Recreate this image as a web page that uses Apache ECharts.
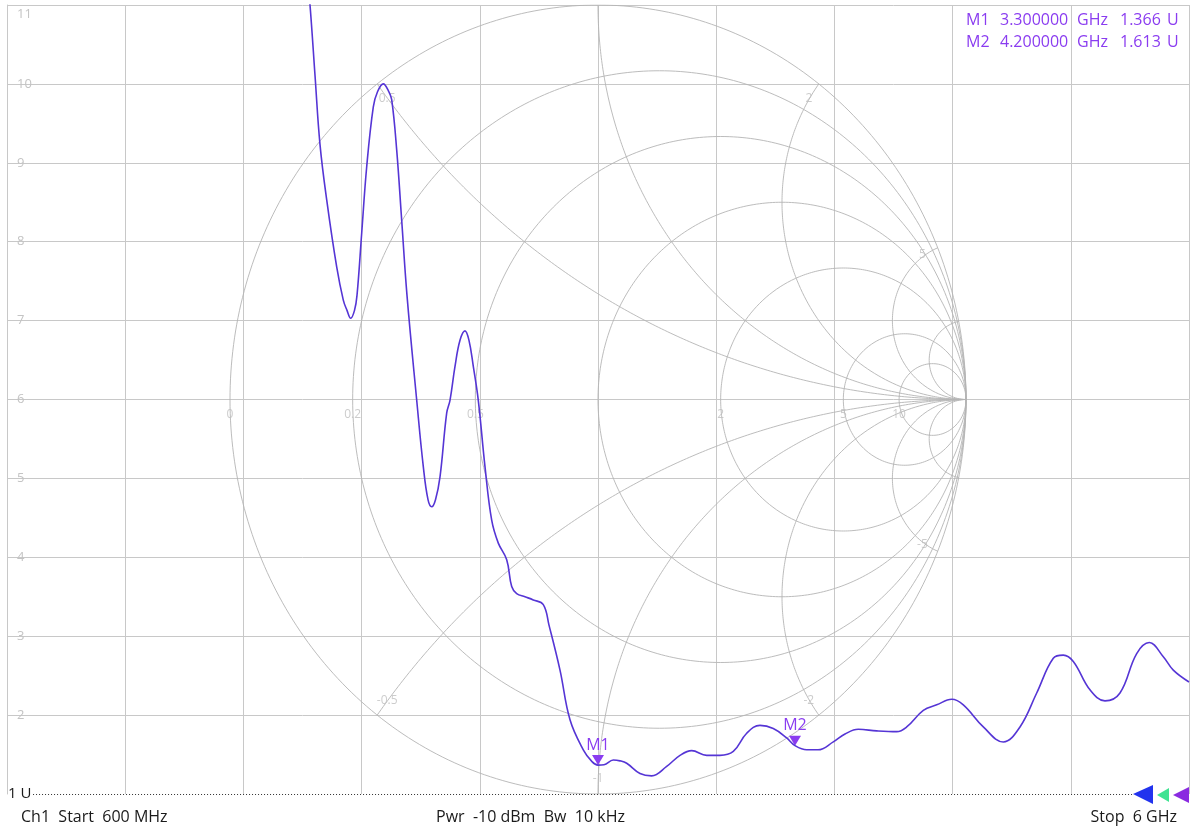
<!DOCTYPE html>
<html><head><meta charset="utf-8">
<script src="https://cdn.jsdelivr.net/npm/echarts@6/dist/echarts.min.js"></script>
<style>html,body{margin:0;padding:0;background:#fff}#c{width:1190px;height:832px}</style>
</head><body><div id="c"></div>
<script>
// ---- data ----
const freqGHz = [1.9706,1.9843,2.0071,2.0300,2.0606,2.1062,2.1364,2.1533,2.1702,2.1876,2.1990,2.2205,2.2433,2.2735,2.2927,2.3192,2.3429,2.3575,2.3804,2.4032,2.4274,2.4718,2.5019,2.5234,2.5403,2.5576,2.5782,2.6088,2.6238,2.6467,2.6695,2.6923,2.7106,2.7303,2.7531,2.7837,2.8143,2.8445,2.8829,2.9057,2.9286,2.9665,3.0044,3.0501,3.0761,3.1264,3.1721,3.2328,3.2726,3.3000,3.3274,3.3699,3.4005,3.4311,3.4918,3.5453,3.6138,3.6746,3.7280,3.7966,3.8573,3.9181,3.9793,4.0401,4.1008,4.1621,4.2000,4.2535,4.3051,4.3750,4.4285,4.4892,4.5733,4.6646,4.7103,4.7862,4.8474,4.9159,4.9689,5.0603,5.1516,5.2279,5.3042,5.3800,5.4257,5.4714,5.5477,5.6162,5.6847,5.7610,5.8186,5.8826,5.9282,6.0000];
const vswr = [11.38,11.0,10.11,9.23,8.53,7.68,7.26,7.13,7.03,7.13,7.32,8.11,8.95,9.71,9.90,10.0,9.91,9.80,9.16,8.27,7.32,5.99,5.15,4.73,4.64,4.73,5.02,5.83,5.99,6.42,6.75,6.87,6.75,6.42,5.99,5.15,4.47,4.18,3.97,3.63,3.54,3.50,3.46,3.40,3.14,2.57,1.94,1.56,1.41,1.366,1.37,1.43,1.42,1.39,1.26,1.23,1.35,1.49,1.55,1.49,1.49,1.54,1.77,1.87,1.83,1.71,1.613,1.56,1.56,1.66,1.76,1.82,1.80,1.79,1.85,2.06,2.13,2.20,2.13,1.85,1.66,1.85,2.28,2.72,2.76,2.68,2.32,2.18,2.28,2.78,2.92,2.74,2.57,2.42];
const markerNames = ['M1','M2'];
const markerFreqGHz = [3.3, 4.2];
const markerVswr = [1.366, 1.613];
const startGHz = 0.6, stopGHz = 6.0;
const yMin = 1, yMax = 11;
const yTickLabels = ['1 U','2','3','4','5','6','7','8','9','10','11'];
const xDivisions = 10;
const smithR = [0, 0.2, 0.5, 1, 2, 5, 10];
const smithX = [0.5, 1, 2, 5, 10];
const smithRLabelValues = [0, 0.2, 0.5, 2, 5, 10];
const smithRLabels = ['0', '0.2', '0.5', '2', '5', '10'];
const smithXLabelValues = [0.5, 2, 5, -0.5, -1, -2, -5];
const smithXLabels = ['0.5', '2', '5', '-0.5', '-1', '-2', '-5'];
const footerLeft = 'Ch1  Start  600 MHz';
const footerMid = 'Pwr  -10 dBm  Bw  10 kHz';
const footerRight = 'Stop  6 GHz';
const refLineFromGHz = 0.719, refLineToGHz = 5.744;

// ---- layout/style ----
const GRID = {left: 7, top: 5, width: 1182, height: 789};
const SMITH_RX = 368;
const uSpan = (GRID.width / 2) / SMITH_RX;
const FONT = 'Open Sans';
const gridColor = '#c8c8c8';
const smithColor = '#b4b4b4';
const smithLabelColor = '#bfbfbf';
const traceColor = '#5535d5';
const markerColor = '#8a3cf0';

// Smith chart geometry (graticule only)
function rCircle(r) {
  const c = r / (1 + r), rad = 1 / (1 + r), pts = [];
  for (let i = 0; i <= 360; i++) { const t = i / 360 * 2 * Math.PI; pts.push([c + rad * Math.cos(t), rad * Math.sin(t)]); }
  return pts;
}
function xArc(x) {
  const s = Math.sign(x), ax = Math.abs(x), rad = 1 / ax, cy = s / ax;
  const ui = (ax * ax - 1) / (ax * ax + 1), vi = s * 2 * ax / (ax * ax + 1);
  let a0 = -s * Math.PI / 2, a1 = Math.atan2(vi - cy, ui - 1);
  if (s > 0) { while (a1 > a0) a1 -= 2 * Math.PI; } else { while (a1 < a0) a1 += 2 * Math.PI; }
  const pts = [], n = 200;
  for (let i = 0; i <= n; i++) { const a = a0 + (a1 - a0) * i / n; pts.push([1 + rad * Math.cos(a), cy + rad * Math.sin(a)]); }
  return pts;
}
function xIntersect(x) {
  return [(x * x - 1) / (x * x + 1), 2 * x / (x * x + 1)];
}

const smithSeries = [];
smithR.forEach(r => smithSeries.push({type: 'line', xAxisIndex: 2, yAxisIndex: 1, data: rCircle(r), showSymbol: false, silent: true, smooth: false, lineStyle: {color: smithColor, width: 0.9}, z: 1}));
smithX.forEach(x => [x, -x].forEach(xx => smithSeries.push({type: 'line', xAxisIndex: 2, yAxisIndex: 1, data: xArc(xx), showSymbol: false, silent: true, lineStyle: {color: smithColor, width: 0.9}, z: 1})));

const smithLabelData = [];
smithRLabelValues.forEach((r, i) => smithLabelData.push({value: [(r - 1) / (r + 1), -0.038], name: smithRLabels[i]}));
smithXLabelValues.forEach((x, i) => { const p = xIntersect(x); const k = x === -1 ? 0.96 : 0.955; smithLabelData.push({value: [p[0] * k, p[1] * k], name: smithXLabels[i]}); });

const ySplitColors = yTickLabels.map((_, i) => i === 0 ? 'rgba(0,0,0,0)' : gridColor);

const chart = echarts.init(document.getElementById('c'), null, {renderer: 'canvas'});
const option = {
  animation: false,
  backgroundColor: '#ffffff',
  textStyle: {fontFamily: FONT},
  grid: Object.assign({containLabel: false}, GRID),
  xAxis: [
    {type: 'value', min: startGHz, max: stopGHz, show: false},
    {type: 'value', min: 0, max: xDivisions, interval: 1, axisLine: {show: false}, axisTick: {show: false}, axisLabel: {show: false},
     splitLine: {show: true, lineStyle: {color: gridColor, width: 1}}},
    {type: 'value', min: -uSpan, max: uSpan, show: false}
  ],
  yAxis: [
    {type: 'value', min: yMin, max: yMax, interval: 1,
     axisLine: {show: true, lineStyle: {color: gridColor}}, axisTick: {show: false},
     splitLine: {show: true, lineStyle: {color: ySplitColors, width: 1}},
     axisLabel: {inside: true, margin: 1, color: '#c4c4c4', fontSize: 13, fontFamily: FONT,
       formatter: v => {
         const lab = yTickLabels[Math.round(v - yMin)];
         if (v === yMin) return '{b|' + lab + '}';
         if (v === yMax) return '{t|' + lab + '}';
         return '{g|' + lab + '}';
       },
       rich: {
         g: {color: '#c4c4c4', fontSize: 13, fontFamily: FONT, padding: [0, 0, 0, 9]},
         t: {color: '#c4c4c4', fontSize: 13, fontFamily: FONT, padding: [18, 0, 0, 9]},
         b: {color: '#1a1a1a', fontSize: 15, fontFamily: FONT, backgroundColor: '#fff', padding: [0, 2, 0, 0]}
       }}},
    {type: 'value', min: -1, max: 1, show: false}
  ],
  series: smithSeries.concat([
    {type: 'scatter', xAxisIndex: 2, yAxisIndex: 1, symbolSize: 0, silent: true, z: 2,
     data: smithLabelData,
     label: {show: true, position: 'inside', formatter: p => p.name, color: smithLabelColor, fontSize: 12, fontFamily: FONT}},
    {type: 'line', xAxisIndex: 0, yAxisIndex: 0, data: [], clip: false, silent: true, z: 3,
     markLine: {silent: true, symbol: ['none', 'none'], label: {show: false},
       lineStyle: {type: [1, 2], color: '#333', width: 1},
       data: [[{coord: [refLineFromGHz, yMin]}, {coord: [refLineToGHz, yMin]}]]}},
    {type: 'line', name: 'VSWR', xAxisIndex: 0, yAxisIndex: 0, z: 5, clip: true,
     data: freqGHz.map((f, i) => [f, vswr[i]]),
     showSymbol: false, smooth: 0.4,
     lineStyle: {color: traceColor, width: 1.6},
     markPoint: {
       symbol: 'triangle', symbolRotate: 180, symbolSize: [12, 10], symbolOffset: [0, -5],
       itemStyle: {color: markerColor},
       label: {show: true, position: 'top', distance: 2, formatter: p => p.name, color: markerColor, fontSize: 16, fontFamily: FONT},
       data: markerNames.map((n, i) => ({name: n, coord: [markerFreqGHz[i], markerVswr[i]]}))
     }}
  ]),
  graphic: []
};

// marker readout (top-right)
const readout = [];
markerNames.forEach((n, i) => {
  const y = 21 + i * 22.5;
  const cols = [[966, n], [1000, markerFreqGHz[i].toFixed(6)], [1077, 'GHz'], [1120, markerVswr[i].toFixed(3)], [1167, 'U']];
  cols.forEach(c => readout.push({type: 'text', left: c[0], top: y - 9, z: 20,
    style: {text: c[1], fill: markerColor, font: '16px "' + FONT + '"'}}));
});
const footer = [
  {type: 'text', left: 21, top: 809, style: {text: footerLeft, fill: '#1a1a1a', font: '16px "' + FONT + '"'}},
  {type: 'text', left: 436, top: 809, style: {text: footerMid, fill: '#1a1a1a', font: '16px "' + FONT + '"'}},
  {type: 'text', right: 13, top: 809, style: {text: footerRight, fill: '#1a1a1a', font: '16px "' + FONT + '"'}}
];
const tri = [
  {type: 'polygon', z: 20, shape: {points: [[1133, 794], [1153, 785], [1153, 804]]}, style: {fill: '#2233ee'}},
  {type: 'polygon', z: 20, shape: {points: [[1157, 795], [1169, 788], [1169, 802]]}, style: {fill: '#3fe392'}},
  {type: 'polygon', z: 20, shape: {points: [[1173, 795], [1189, 787], [1189, 803]]}, style: {fill: '#8a2be0'}}
];
option.graphic = readout.concat(footer, tri);
chart.setOption(option);
</script>
</body></html>
